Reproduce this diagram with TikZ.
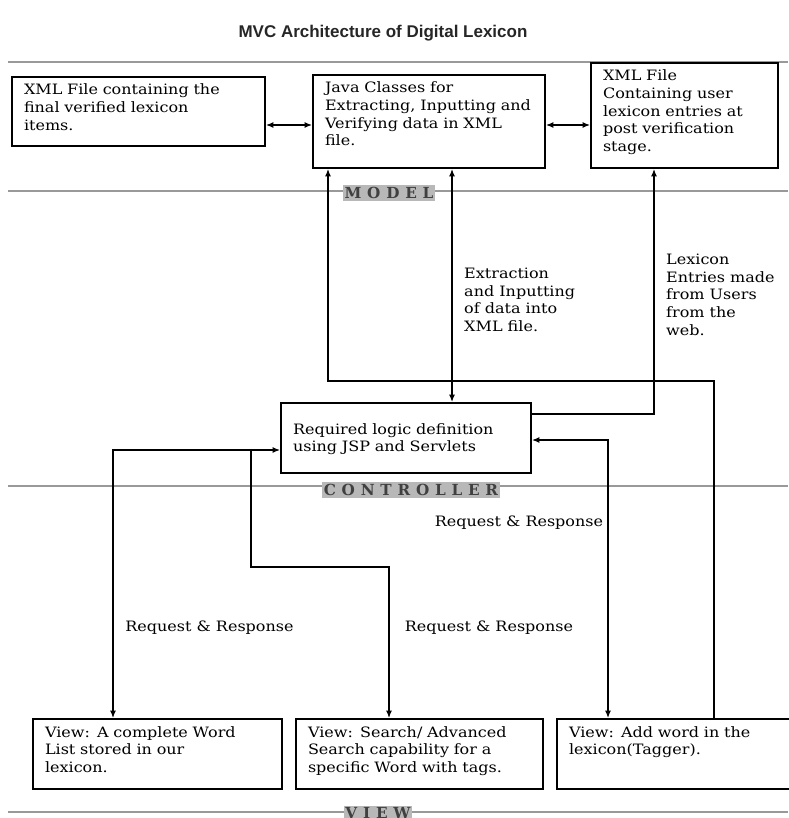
\documentclass[tikz,border=0pt]{standalone}
\usepackage{fontspec}
\setmainfont[FakeStretch=1.12]{DejaVu Serif}
\newfontfamily\titlefont{Liberation Sans}
\newfontfamily\layerfont[LetterSpace=38]{DejaVu Serif}
\usetikzlibrary{
    arrows.meta,
    calc
}

\begin{document}
\begin{tikzpicture}[
    every node/.style={
        font=\fontsize{12.2pt}{15pt}\selectfont
    },
    layerbox/.style={
        rectangle,
        draw=black,
        line width=1.8pt,
        fill=white,
        align=left,
        inner xsep=0.36cm,
        inner ysep=0.15cm,
        text height=0.39cm
    },
    layerline/.style={
        draw=black!40,
        line width=1pt
    },
    layertag/.style={
        fill=black!28,
        text=black!75,
        inner sep=1.5pt,
        font=\layerfont\bfseries\fontsize{13pt}{14pt}\selectfont
    },
    flownote/.style={
        anchor=north west,
        align=left,
        inner sep=0pt
    },
    flowarrow/.style={
        -{Latex[length=2.2mm,width=1.8mm]},
        line width=1pt
    },
    biarrow/.style={
        {Latex[length=2.2mm,width=1.8mm]}-{Latex[length=2.2mm,width=1.8mm]},
        line width=1pt
    }
]

\useasboundingbox (0,0) rectangle (23.64,-24.54);

\node[
    font=\titlefont\bfseries\fontsize{14.5pt}{16pt}\selectfont,
    text=black!85
] (title) at (11.49,-0.99) {MVC Architecture of Digital Lexicon};

% ==========================================================
% Layer separators
% ==========================================================
\draw[layerline] (0.24,-1.86) -- (23.64,-1.86);
\draw[layerline] (0.24,-5.73) -- (23.64,-5.73);
\draw[layerline] (0.24,-14.58) -- (23.64,-14.58);
\draw[layerline, line width=1.6pt] (0.24,-24.36) -- (23.64,-24.36);

% ==========================================================
% Model
% ==========================================================
\node[layerbox, text width=6.87cm, text depth=1.38cm] (modfinal) at (4.155,-3.345) {
    XML File containing the\\
    final verified lexicon\\
    items.
};

\node[layerbox, text width=6.24cm, text depth=2.10cm] (modjava) at (12.87,-3.645) {
    Java Classes for\\
    Extracting, Inputting and\\
    Verifying data in XML\\
    file.
};

\node[layerbox, text width=4.89cm, text depth=2.46cm] (modxml) at (20.535,-3.465) {
    XML File\\
    Containing user\\
    lexicon entries at\\
    post verification\\
    stage.
};

% ==========================================================
% Controller
% ==========================================================
\node[layerbox, text width=6.78cm, text height=0.78cm, text depth=1.02cm] (ctrl) at (12.18,-13.14) {
    Required logic definition\\
    using JSP and Servlets
};

% ==========================================================
% View
% ==========================================================
\node[layerbox, text width=6.75cm, text depth=1.41cm] (viewlist) at (4.725,-22.62) {
    View: A complete Word\\
    List stored in our\\
    lexicon.
};

\node[layerbox, text width=6.69cm, text depth=1.41cm] (viewsearch) at (12.585,-22.62) {
    View: Search/ Advanced\\
    Search capability for a\\
    specific Word with tags.
};

\node[layerbox, text width=6.69cm, text depth=1.41cm] (viewadd) at (20.415,-22.62) {
    View: Add word in the\\
    lexicon(Tagger).
};

% ==========================================================
% Connectors
% ==========================================================
\coordinate (modrow) at (0,-3.75);
\coordinate (extrail) at (13.56,0);
\coordinate (taggrail) at (21.42,0);
\coordinate (loopturn) at (9.84,-11.43);
\coordinate (webturn) at (19.62,-12.42);
\coordinate (listturn) at (3.39,-13.5);
\coordinate (searchsplit) at (7.53,-13.5);
\coordinate (searchturn) at (11.67,-17.01);
\coordinate (addturn) at (18.24,-13.2);

\draw[biarrow] (modfinal.east |- modrow) -- (modjava.west |- modrow);
\draw[biarrow] (modjava.east |- modrow) -- (modxml.west |- modrow);

\draw[biarrow] (modjava.south -| extrail) -- (ctrl.north -| extrail);

\draw[flowarrow]
    (viewadd.north -| taggrail)
    |- (loopturn)
    -- (modjava.south -| loopturn);

\draw[flowarrow]
    (ctrl.east |- webturn)
    -- (webturn)
    -- (modxml.south -| webturn);

\draw[biarrow]
    (viewlist.north -| listturn)
    -- (listturn)
    -- (ctrl.west |- listturn);

\draw[flowarrow]
    (searchsplit)
    |- (searchturn)
    -- (viewsearch.north -| searchturn);

\draw[biarrow]
    (viewadd.north -| addturn)
    -- (addturn)
    -- (ctrl.east |- addturn);

% ==========================================================
% Connector notes
% ==========================================================
\node[flownote] (extnote) at (13.92,-8.04) {
    Extraction\\
    and Inputting\\
    of data into\\
    XML file.
};

\node[flownote] (webnote) at (19.98,-7.62) {
    Lexicon\\
    Entries made\\
    from Users\\
    from the\\
    web.
};

\node (reqadd) at (15.57,-15.69) {Request \& Response};
\node (reqlist) at (6.285,-18.84) {Request \& Response};
\node (reqsearch) at (14.67,-18.84) {Request \& Response};

% ==========================================================
% Layer tags
% ==========================================================
\node[layertag] (modeltag) at (11.67,-5.79) {MODEL};
\node[layertag] (ctrltag) at (12.33,-14.70) {CONTROLLER};
\node[layertag] (viewtag) at (11.34,-24.40) {VIEW};

\end{tikzpicture}
\end{document}
